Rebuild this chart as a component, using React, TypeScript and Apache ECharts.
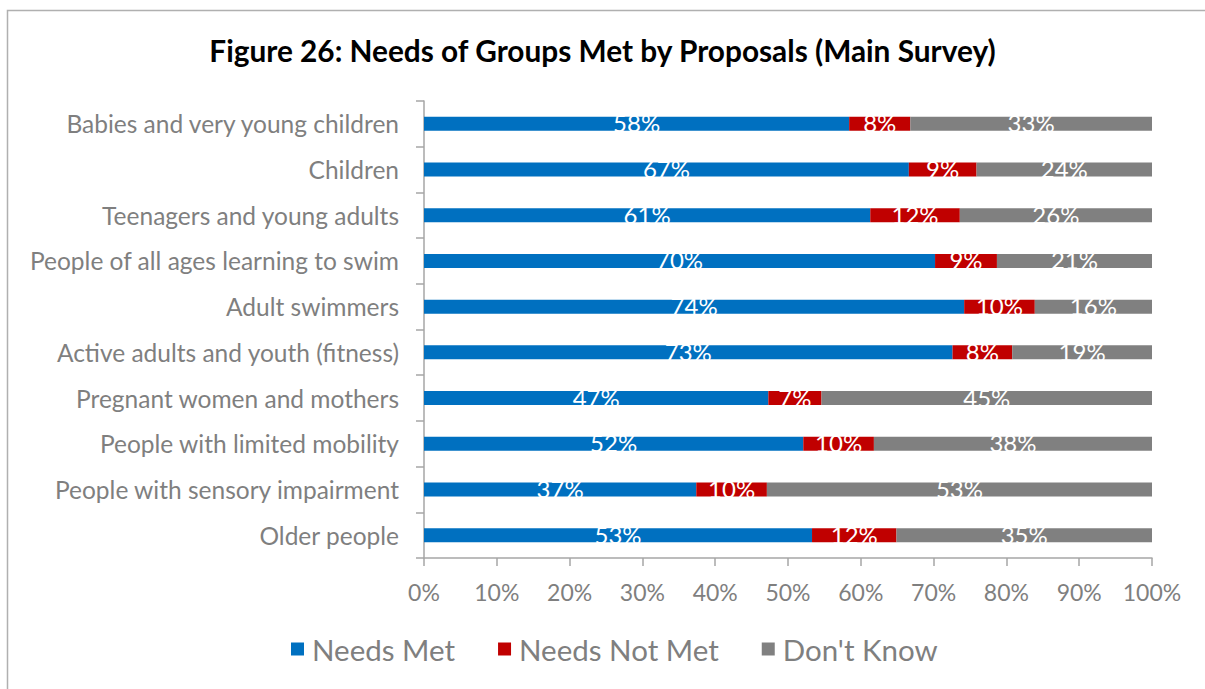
import React, { useEffect, useRef } from "react";
import * as echarts from "echarts";

const title = "Figure 26: Needs of Groups Met by Proposals (Main Survey)";
const categories = [
  "Babies and very young children",
  "Children",
  "Teenagers and young adults",
  "People of all ages learning to swim",
  "Adult swimmers",
  "Active adults and youth (fitness)",
  "Pregnant women and mothers",
  "People with limited mobility",
  "People with sensory impairment",
  "Older people",
];
const needsMet = [58.4, 66.6, 61.3, 70.2, 74.2, 72.6, 47.3, 52.1, 37.4, 53.3];
const needsNotMet = [8.4, 9.3, 12.3, 8.5, 9.7, 8.2, 7.3, 9.7, 9.7, 11.6];
const dontKnow = [33.2, 24.1, 26.4, 21.3, 16.1, 19.2, 45.4, 38.2, 52.9, 35.1];
const seriesNames = ["Needs Met", "Needs Not Met", "Don't Know"];
const seriesColors = ["#0070C0", "#C00000", "#808080"];

const FONT = "Lato";

export default function App() {
  const ref = useRef<HTMLDivElement>(null);
  useEffect(() => {
    if (!ref.current) return;
    const chart = echarts.init(ref.current, undefined, { renderer: "svg" });
    const data = [needsMet, needsNotMet, dontKnow];
    chart.setOption({
      animation: false,
      backgroundColor: "#ffffff",
      textStyle: { fontFamily: FONT },
      title: {
        text: title,
        left: "center",
        top: 30,
        textStyle: { fontFamily: FONT, fontSize: 29.8, fontWeight: "bold", color: "#000000" },
      },
      graphic: [
        {
          type: "rect",
          shape: { x: 7.5, y: 10.5, width: 1210, height: 700 },
          style: { fill: "none", stroke: "#b0b0b0", lineWidth: 1.5 },
          silent: true,
        },
      ],
      legend: {
        data: seriesNames,
        bottom: 20,
        left: 286,
        itemWidth: 13,
        itemHeight: 13,
        itemGap: 43,
        icon: "rect",
        textStyle: { fontFamily: FONT, fontSize: 29.5, color: "#7f7f7f", padding: [0, 0, 0, 3] },
      },
      grid: { left: 424, right: 53, top: 101, bottom: 131, containLabel: false },
      xAxis: {
        type: "value",
        min: 0,
        max: 100,
        interval: 10,
        splitLine: { show: false },
        axisLine: { show: true, lineStyle: { color: "#a6a6a6", width: 1.5 } },
        axisTick: { show: true, length: 8, lineStyle: { color: "#a6a6a6", width: 1.5 } },
        axisLabel: {
          formatter: "{value}%",
          margin: 22,
          fontFamily: FONT,
          fontSize: 23,
          color: "#7f7f7f",
        },
      },
      yAxis: {
        type: "category",
        data: categories,
        inverse: true,
        axisLine: { show: true, lineStyle: { color: "#a6a6a6", width: 1.5 } },
        axisTick: { show: true, length: 8, lineStyle: { color: "#a6a6a6", width: 1.5 } },
        axisLabel: { margin: 25, fontFamily: FONT, fontSize: 24.5, color: "#7f7f7f" },
      },
      series: seriesNames.map((name, i) => ({
        name,
        type: "bar",
        stack: "total",
        barWidth: 14,
        data: data[i],
        itemStyle: { color: seriesColors[i] },
        label: {
          show: true,
          position: "inside",
          offset: [0, -1],
          color: "#ffffff",
          fontFamily: FONT,
          fontSize: 24,
          formatter: (p: any) => Math.round(p.value) + "%",
        },
      })),
    });
    return () => chart.dispose();
  }, []);
  return (
    <div
      ref={ref}
      style={{ position: "fixed", left: 0, top: 0, width: 1205, height: 689 }}
    />
  );
}
